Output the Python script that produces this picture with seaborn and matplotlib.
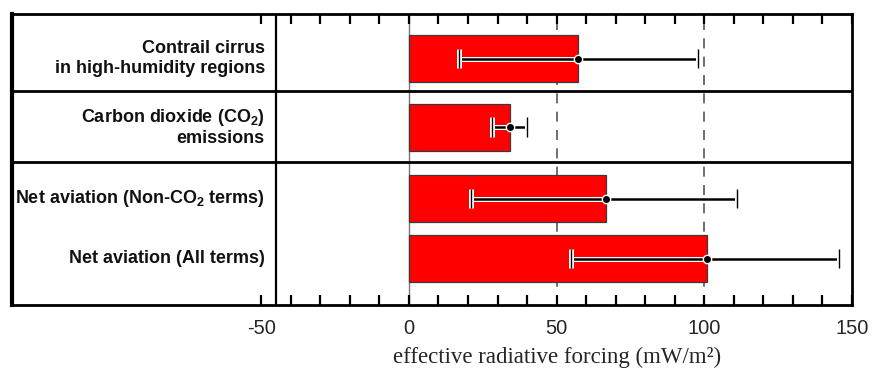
import numpy as np
import pandas as pd
import matplotlib
matplotlib.use("Agg")
import matplotlib.pyplot as plt
import matplotlib.patheffects as pe
import seaborn as sns

# ---- data ----
categories = [
    "Contrail cirrus\nin high-humidity regions",
    "Carbon dioxide (CO$_\\mathbf{2}$)\nemissions",
    "Net aviation (Non-CO$_\\mathbf{2}$ terms)",
    "Net aviation (All terms)",
]
values = [57.4, 34.3, 66.6, 100.9]
low = [17.0, 28.0, 21.0, 55.0]
high = [98.0, 40.0, 111.0, 145.5]
tick_labels = ["-50", "0", "50", "100", "150"]

# ---- layout (row centres on a pixel-like vertical scale) ----
row_centres = [58.5, 127.0, 198.5, 258.5]
group_separators = [91.0, 162.0]
label_panel_edge = -45

sns.set_style("white")
plt.rcParams["font.family"] = ["Liberation Sans", "DejaVu Sans"]
plt.rcParams["mathtext.fontset"] = "custom"
plt.rcParams["mathtext.rm"] = "Liberation Sans"
plt.rcParams["mathtext.bf"] = "Liberation Sans:bold"

df = pd.DataFrame({"cat": categories, "value": values, "pos": row_centres})

fig = plt.figure(figsize=(8.72, 3.70), dpi=100)
ax = fig.add_axes([12 / 872, 1 - 305 / 370, 840 / 872, 291 / 370])

# reference lines (behind bars)
ax.axvline(0, color="#777777", lw=1.0, zorder=0)
for v in (50, 100):
    ax.axvline(v, color="#555555", lw=1.2, dashes=(6, 5), zorder=0)

sns.barplot(data=df, x="value", y="pos", orient="y", native_scale=True,
            width=47 / 60, color="#ff0000", saturation=1, edgecolor="#3a3a3a",
            linewidth=0.9, errorbar=None, ax=ax, zorder=2)

vals = np.array(values)
xerr = [vals - np.array(low), np.array(high) - vals]
eb = ax.errorbar(vals, row_centres, xerr=xerr, fmt="o", color="black",
                 ms=6, mfc="black", mec="white", mew=1.0,
                 elinewidth=1.8, capsize=7, capthick=2.0, zorder=4)
stroke = [pe.withStroke(linewidth=3.6, foreground="white")]
for cl in eb[1]:
    cl.set_path_effects(stroke)
for lc in eb[2]:
    lc.set_path_effects(stroke)

# separators
for s in group_separators:
    ax.axhline(s, color="black", lw=2.0, zorder=3)
ax.axvline(label_panel_edge, color="black", lw=1.6, zorder=3)

# category labels
for c, y in zip(categories, row_centres):
    ax.text(-48.8, y, c, ha="right", va="center", fontsize=13,
            fontweight="bold", linespacing=1.2, color="#111111")

ax.set_xlim(-134.4, 150)
ax.set_ylim(305, 14)
ax.set_ylabel("")
ax.set_yticks([])

ticks = list(range(-50, 151, 10))
ax.set_xticks(ticks)
ax.set_xticklabels([tick_labels[[-50, 0, 50, 100, 150].index(t)] if t % 50 == 0 else "" for t in ticks])
ax.tick_params(axis="x", direction="in", top=True, bottom=True, length=7.5,
               width=1.6, labelsize=14.5, pad=10, color="black")

for sp in ax.spines.values():
    sp.set_visible(True)
    sp.set_color("black")
    sp.set_linewidth(2.0)
ax.spines["left"].set_linewidth(3.0)

ax.set_xlabel("effective radiative forcing (mW/m²)", fontsize=16.5,
              family=["Liberation Serif", "DejaVu Serif"])
ax.xaxis.set_label_coords(0.649, -0.145)

fig.savefig("out.png", dpi=100)
